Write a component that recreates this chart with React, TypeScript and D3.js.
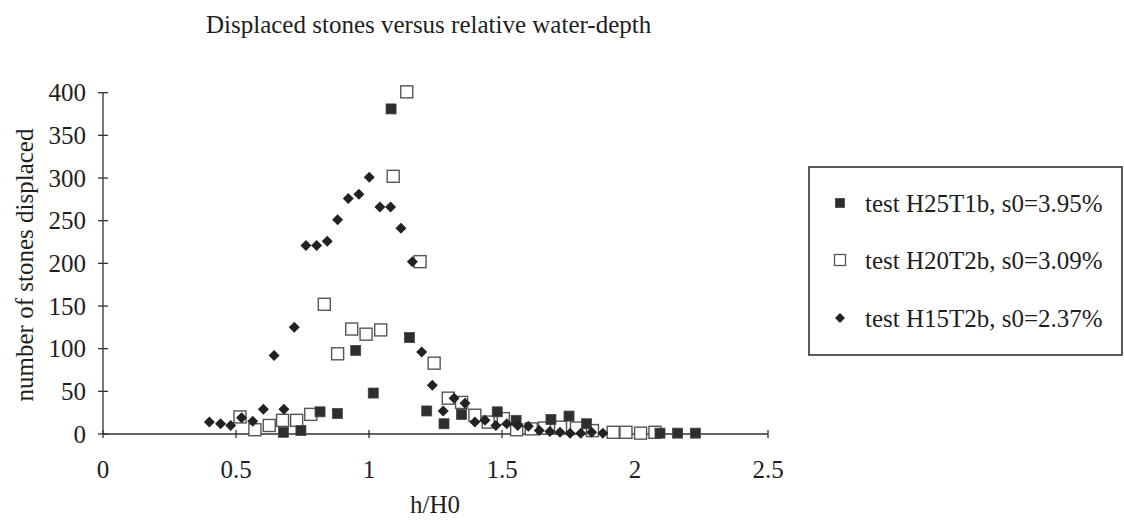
import React, { useEffect, useRef } from "react";
import * as d3 from "d3";

const title = "Displaced stones versus relative water-depth";
const xLabel = "h/H0";
const yLabel = "number of stones displaced";
const xTicks = [0, 0.5, 1, 1.5, 2, 2.5];
const xTickLabels = ["0", "0.5", "1", "1.5", "2", "2.5"];
const yTicks = [0, 50, 100, 150, 200, 250, 300, 350, 400];

const seriesNames = [
  "test H25T1b, s0=3.95%",
  "test H20T2b, s0=3.09%",
  "test H15T2b, s0=2.37%",
];

// test H25T1b (filled squares)
const h25x = [0.678, 0.744, 0.816, 0.881, 0.95, 1.016, 1.083, 1.152, 1.217, 1.282, 1.348, 1.482, 1.553, 1.684, 1.752, 1.818, 2.094, 2.16, 2.227];
const h25y = [2, 4, 26, 24, 98, 48, 381, 113, 27, 12, 23, 26, 16, 17, 21, 12, 1, 1, 1];

// test H20T2b (open squares)
const h20x = [0.515, 0.571, 0.625, 0.675, 0.728, 0.781, 0.832, 0.882, 0.935, 0.989, 1.044, 1.091, 1.142, 1.192, 1.245, 1.298, 1.348, 1.398, 1.448, 1.505, 1.555, 1.61, 1.66, 1.72, 1.78, 1.84, 1.918, 1.966, 2.021, 2.075];
const h20y = [20, 5, 10, 16, 16, 23, 152, 94, 123, 117, 122, 302, 401, 202, 83, 42, 37, 22, 14, 18, 5, 6, 7, 8, 7, 4, 2, 2, 1, 2];

// test H15T2b (diamonds)
const h15x = [0.4, 0.442, 0.48, 0.521, 0.563, 0.603, 0.643, 0.68, 0.719, 0.763, 0.803, 0.843, 0.882, 0.922, 0.962, 1.001, 1.041, 1.081, 1.12, 1.163, 1.198, 1.238, 1.279, 1.32, 1.361, 1.398, 1.436, 1.477, 1.518, 1.559, 1.599, 1.64, 1.68, 1.718, 1.756, 1.796, 1.837, 1.879];
const h15y = [14, 12, 10, 19, 15, 29, 92, 29, 125, 221, 221, 226, 251, 276, 281, 301, 266, 266, 241, 202, 96, 57, 27, 42, 36, 14, 16, 10, 12, 10, 9, 4, 3, 2, 1, 1, 2, 1];

const FONT = "'Liberation Serif', 'Times New Roman', serif";
const FS = 25;

export default function App() {
  const ref = useRef<SVGSVGElement>(null);

  useEffect(() => {
    const svg = d3.select(ref.current);
    svg.selectAll("*").remove();

    const x = d3.scaleLinear().domain([0, 2.5]).range([103, 768]);
    const y = d3.scaleLinear().domain([0, 400]).range([434, 92.7]);

    const axisColor = "#333";
    const textColor = "#1e1e1e";

    // title
    svg.append("text")
      .attr("x", 206).attr("y", 33)
      .attr("font-family", FONT).attr("font-size", FS).attr("fill", textColor)
      .text(title);

    // y axis
    const yAxis = svg.append("g");
    yAxis.append("line")
      .attr("x1", x(0)).attr("x2", x(0))
      .attr("y1", y(400)).attr("y2", y(0))
      .attr("stroke", axisColor).attr("stroke-width", 1.3);
    yAxis.selectAll("line.tick").data(yTicks).join("line")
      .attr("class", "tick")
      .attr("x1", x(0) - 5).attr("x2", x(0) + 5)
      .attr("y1", (d) => y(d)).attr("y2", (d) => y(d))
      .attr("stroke", axisColor).attr("stroke-width", 1.3);
    yAxis.selectAll("text").data(yTicks).join("text")
      .attr("x", 86).attr("y", (d) => y(d))
      .attr("dy", "0.34em")
      .attr("text-anchor", "end")
      .attr("font-family", FONT).attr("font-size", FS).attr("fill", textColor)
      .text((d) => String(d));

    // x axis
    const xAxis = svg.append("g");
    xAxis.append("line")
      .attr("x1", x(0)).attr("x2", x(2.5))
      .attr("y1", y(0)).attr("y2", y(0))
      .attr("stroke", axisColor).attr("stroke-width", 1.3);
    xAxis.selectAll("line.tick").data(xTicks).join("line")
      .attr("class", "tick")
      .attr("x1", (d) => x(d)).attr("x2", (d) => x(d))
      .attr("y1", y(0) - 4).attr("y2", y(0) + 4)
      .attr("stroke", axisColor).attr("stroke-width", 1.3);
    xAxis.selectAll("text").data(xTicks).join("text")
      .attr("x", (d) => x(d)).attr("y", 478)
      .attr("text-anchor", "middle")
      .attr("font-family", FONT).attr("font-size", FS).attr("fill", textColor)
      .text((d, i) => xTickLabels[i]);

    // axis titles
    svg.append("text")
      .attr("x", 435).attr("y", 513)
      .attr("text-anchor", "middle")
      .attr("font-family", FONT).attr("font-size", FS).attr("fill", textColor)
      .text(xLabel);
    svg.append("text")
      .attr("transform", `translate(33,265) rotate(-90)`)
      .attr("text-anchor", "middle")
      .attr("font-family", FONT).attr("font-size", FS).attr("fill", textColor)
      .text(yLabel);

    const diamond = (r: number) => `M0,${-r}L${r},0L0,${r}L${-r},0Z`;

    // open squares
    const h20 = h20x.map((v, i) => [v, h20y[i]]);
    svg.append("g").selectAll("rect").data(h20).join("rect")
      .attr("x", (d) => x(d[0]) - 6).attr("y", (d) => y(d[1]) - 6)
      .attr("width", 12).attr("height", 12)
      .attr("fill", "#fff").attr("stroke", "#555").attr("stroke-width", 1.4);

    // filled squares
    const h25 = h25x.map((v, i) => [v, h25y[i]]);
    svg.append("g").selectAll("rect").data(h25).join("rect")
      .attr("x", (d) => x(d[0]) - 5).attr("y", (d) => y(d[1]) - 5)
      .attr("width", 10).attr("height", 10)
      .attr("fill", "#2e2e2e").attr("stroke", "#444").attr("stroke-width", 0.8);

    // diamonds
    const h15 = h15x.map((v, i) => [v, h15y[i]]);
    svg.append("g").selectAll("path").data(h15).join("path")
      .attr("transform", (d) => `translate(${x(d[0])},${y(d[1])})`)
      .attr("d", diamond(5.5))
      .attr("fill", "#222");

    // legend
    const lg = svg.append("g");
    lg.append("rect")
      .attr("x", 809).attr("y", 167).attr("width", 313).attr("height", 188)
      .attr("fill", "#fff").attr("stroke", "#333").attr("stroke-width", 1.6);
    const rows = [203, 260, 318];
    const mx = 840;
    lg.append("rect").attr("x", mx - 4.5).attr("y", rows[0] - 4.5).attr("width", 9).attr("height", 9)
      .attr("fill", "#2e2e2e").attr("stroke", "#444").attr("stroke-width", 0.8);
    lg.append("rect").attr("x", mx - 5.5).attr("y", rows[1] - 5.5).attr("width", 11).attr("height", 11)
      .attr("fill", "#fff").attr("stroke", "#555").attr("stroke-width", 1.3);
    lg.append("path").attr("transform", `translate(${mx},${rows[2]})`).attr("d", diamond(5)).attr("fill", "#222");
    lg.selectAll("text").data(seriesNames).join("text")
      .attr("x", 865).attr("y", (d, i) => rows[i])
      .attr("dy", "0.34em")
      .attr("font-family", FONT).attr("font-size", FS).attr("fill", textColor)
      .text((d) => d);
  }, []);

  return (
    <svg
      ref={ref}
      width={1124}
      height={523}
      style={{ position: "absolute", left: 0, top: 0, background: "#fff" }}
    />
  );
}
